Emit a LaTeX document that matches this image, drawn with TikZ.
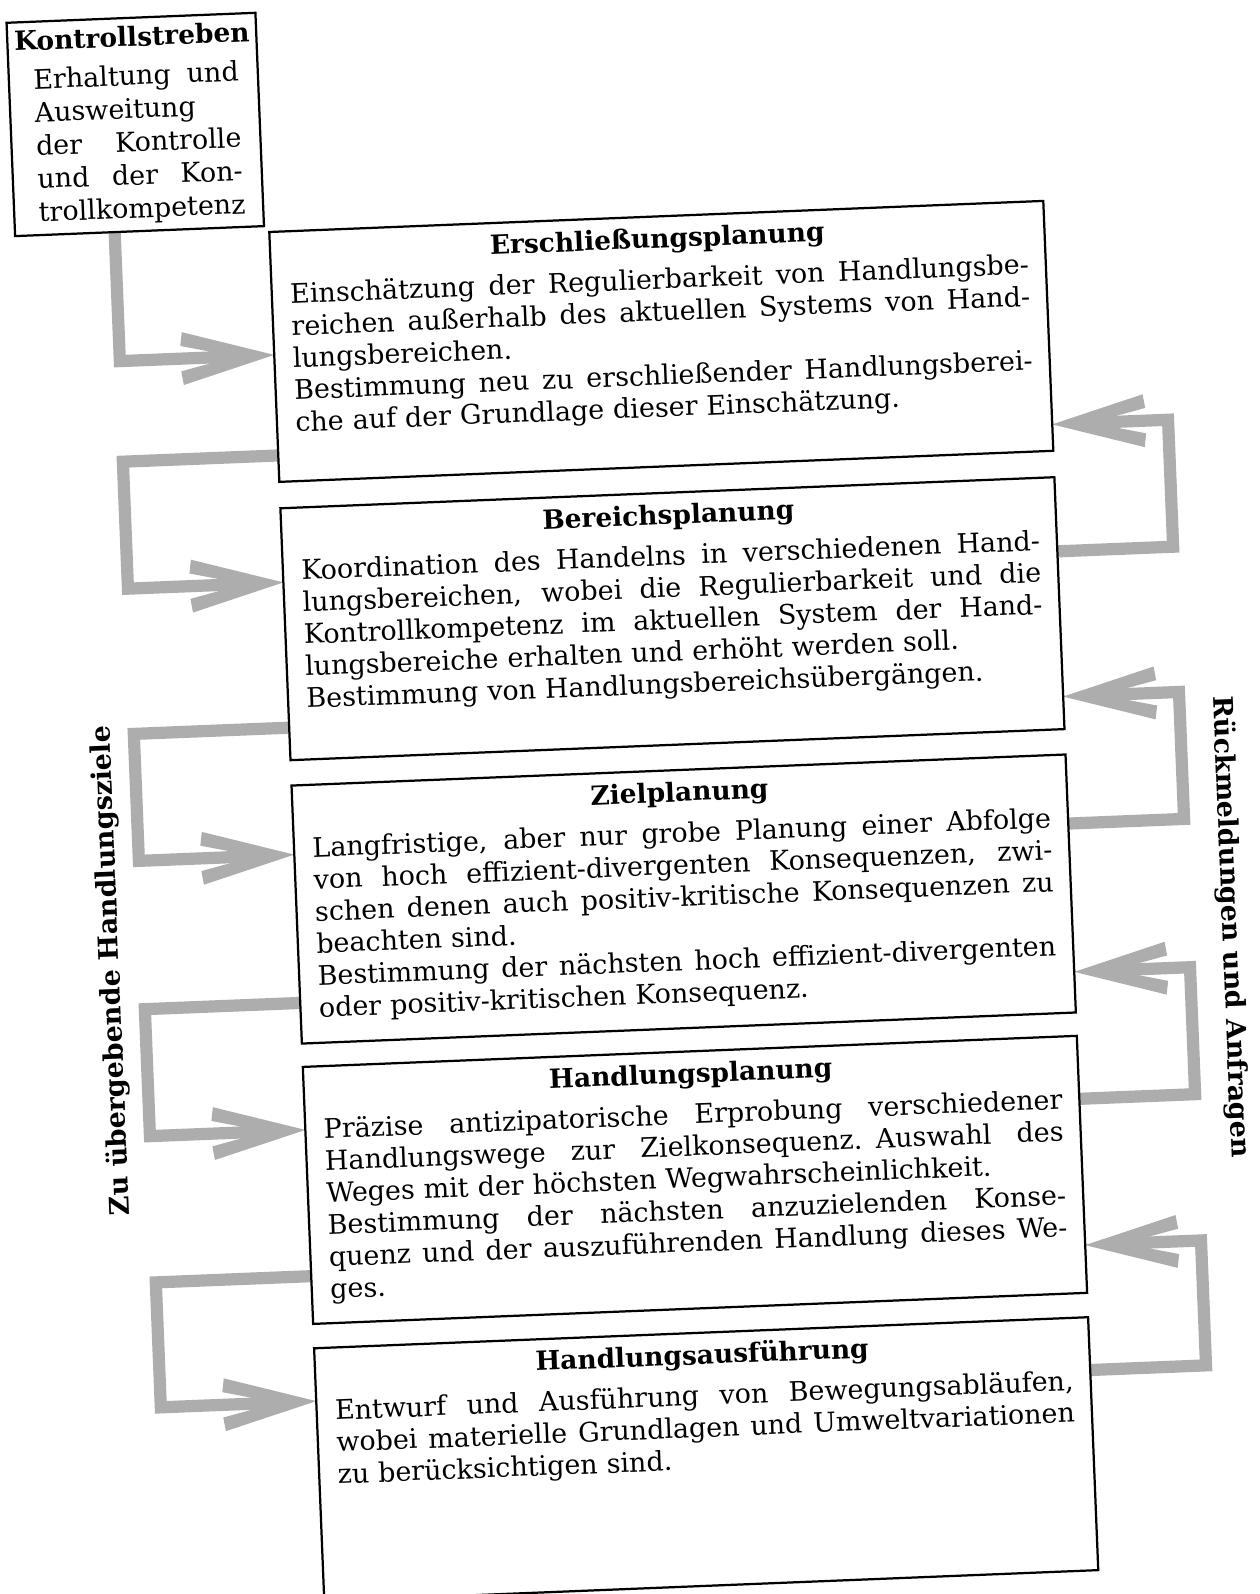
\documentclass[tikz,border=0pt]{standalone}
\usepackage{fontspec}
\setmainfont{DejaVu Serif}
\usetikzlibrary{calc}
\pgfdeclarelayer{bg}
\pgfsetlayers{bg,main}
\definecolor{arrowgray}{gray}{0.68}
\newcommand\jl[1]{\hbox to 727pt{\spaceskip=0.3em plus 2em minus 0.05em\strut#1}\par}
\newcommand\nl[1]{\hbox to 727pt{\strut#1\hfil}\par}
\newcommand\kjl[1]{\hbox to 202pt{\spaceskip=0.3em plus 3em minus 0.05em\strut#1}\par}
\newcommand\knl[1]{\hbox to 202pt{\strut#1\hfil}\par}
\begin{document}
\begin{tikzpicture}[x=1pt,y=-1pt,
  box/.style={draw, line width=2.2pt, inner sep=0pt, outer sep=0pt, anchor=north west},
  head/.style={inner sep=0pt, anchor=base, font=\bfseries\fontsize{26}{30}\selectfont},
  body/.style={inner sep=0pt, anchor=north west, text width=727pt, font=\fontsize{26.5}{31.5}\selectfont},
  kbody/.style={inner sep=0pt, anchor=north west, text width=202pt, font=\fontsize{26.5}{32.7}\selectfont},
  shaft/.style={draw=arrowgray, line width=12pt, line join=miter, line cap=butt, shorten >=60pt},
  side/.style={inner sep=0pt, font=\bfseries\fontsize{26.5}{30}\selectfont},
  headR/.style={insert path={-- ++(-90,-26) -- ++(-2,13.5) -- ++(28,6.5) -- ++(0,12) -- ++(-28,6.5) -- ++(2,13.5) -- cycle}},
  headL/.style={insert path={-- ++(90,-26) -- ++(2,13.5) -- ++(-28,6.5) -- ++(0,12) -- ++(28,6.5) -- ++(-2,13.5) -- cycle}}
]
\useasboundingbox (0,0) rectangle (1239,1568);
\begin{pgfonlayer}{bg}
\fill[white] (0,0) rectangle (1239,1568);
\end{pgfonlayer}
\begin{scope}[rotate around={2.3:(630,797)}, transform shape]
% boxes
\node[box, minimum width=245pt, minimum height=210pt] (K) at (38,-2) {};
\node[box, minimum width=762pt, minimum height=246pt] (E) at (288,214) {};
\node[box, minimum width=762pt, minimum height=248pt] (B) at (288,486) {};
\node[box, minimum width=762pt, minimum height=254pt] (Z) at (288,759) {};
\node[box, minimum width=762pt, minimum height=253pt] (H) at (288,1036) {};
\node[box, minimum width=762pt, minimum height=249pt] (A) at (288,1313) {};
% texts
\node[head] (Kh) at ($(K.north)+(0,28)$) {Kontrollstreben};
\node[kbody] (Kb) at ($(K.north west)+(24,43.1)$) {%
\kjl{Erhaltung und}
\knl{Ausweitung}
\kjl{der Kontrolle}
\kjl{und der Kon-}
\kjl{trollkompetenz}};
\node[head] (Eh) at ($(E.north)+(0,31)$) {Erschließungsplanung};
\node[body] (Eb) at ($(E.north west)+(18,49)$) {%
\jl{Einschätzung der Regulierbarkeit von Handlungsbe-}
\jl{reichen außerhalb des aktuellen Systems von Hand-}
\nl{lungsbereichen.}
\jl{Bestimmung neu zu erschließender Handlungsberei-}
\nl{che auf der Grundlage dieser Einschätzung.}};
\node[head] (Bh) at ($(B.north)+(0,31)$) {Bereichsplanung};
\node[body] (Bb) at ($(B.north west)+(18,49)$) {%
\jl{Koordination des Handelns in verschiedenen Hand-}
\jl{lungsbereichen, wobei die Regulierbarkeit und die}
\jl{Kontrollkompetenz im aktuellen System der Hand-}
\nl{lungsbereiche erhalten und erhöht werden soll.}
\nl{Bestimmung von Handlungsbereichsübergängen.}};
\node[head] (Zh) at ($(Z.north)+(0,31)$) {Zielplanung};
\node[body] (Zb) at ($(Z.north west)+(18,49)$) {%
\jl{Langfristige, aber nur grobe Planung einer Abfolge}
\jl{von hoch effizient-divergenten Konsequenzen, zwi-}
\jl{schen denen auch positiv-kritische Konsequenzen zu}
\nl{beachten sind.}
\jl{Bestimmung der nächsten hoch effizient-divergenten}
\nl{oder positiv-kritischen Konsequenz.}};
\node[head] (Hh) at ($(H.north)+(0,31)$) {Handlungsplanung};
\node[body] (Hb) at ($(H.north west)+(18,49)$) {%
\jl{Präzise antizipatorische Erprobung verschiedener}
\jl{Handlungswege zur Zielkonsequenz. Auswahl des}
\nl{Weges mit der höchsten Wegwahrscheinlichkeit.}
\jl{Bestimmung der nächsten anzuzielenden Konse-}
\jl{quenz und der auszuführenden Handlung dieses We-}
\nl{ges.}};
\node[head] (Ah) at ($(A.north)+(0,31)$) {Handlungsausführung};
\node[body] (Ab) at ($(A.north west)+(18,49)$) {%
\jl{Entwurf und Ausführung von Bewegungsabläufen,}
\jl{wobei materielle Grundlagen und Umweltvariationen}
\nl{zu berücksichtigen sind.}};
% side labels
\node[side, rotate=90] (SL) at (104,934) {Zu übergebende Handlungsziele};
\node[side, rotate=-90] (SR) at (1205,935) {Rückmeldungen und Anfragen};
% arrows
\begin{pgfonlayer}{bg}
\draw[shaft] (K.south -| 136,0) -- (136,335) -- (E.west |- 0,335);
\fill[arrowgray] (E.west |- 0,335) [headR];
\draw[shaft] (E.west |- 0,434) -- (135,434) -- (135,559) -- (B.west |- 0,559);
\fill[arrowgray] (B.west |- 0,559) [headR];
\draw[shaft] (B.west |- 0,702) -- (135,702) -- (135,827) -- (Z.west |- 0,827);
\fill[arrowgray] (Z.west |- 0,827) [headR];
\draw[shaft] (Z.west |- 0,973) -- (135,973) -- (135,1098) -- (H.west |- 0,1098);
\fill[arrowgray] (H.west |- 0,1098) [headR];
\draw[shaft] (H.west |- 0,1242) -- (135,1242) -- (135,1365) -- (A.west |- 0,1365);
\fill[arrowgray] (A.west |- 0,1365) [headR];
\draw[shaft] (B.east |- 0,559) -- (1164,559) -- (1164,434) -- (E.east |- 0,434);
\fill[arrowgray] (E.east |- 0,434) [headL];
\draw[shaft] (Z.east |- 0,827) -- (1164,827) -- (1164,702) -- (B.east |- 0,702);
\fill[arrowgray] (B.east |- 0,702) [headL];
\draw[shaft] (H.east |- 0,1098) -- (1164,1098) -- (1164,973) -- (Z.east |- 0,973);
\fill[arrowgray] (Z.east |- 0,973) [headL];
\draw[shaft] (A.east |- 0,1365) -- (1164,1365) -- (1164,1242) -- (H.east |- 0,1242);
\fill[arrowgray] (H.east |- 0,1242) [headL];
\end{pgfonlayer}
\end{scope}
\end{tikzpicture}
\end{document}
